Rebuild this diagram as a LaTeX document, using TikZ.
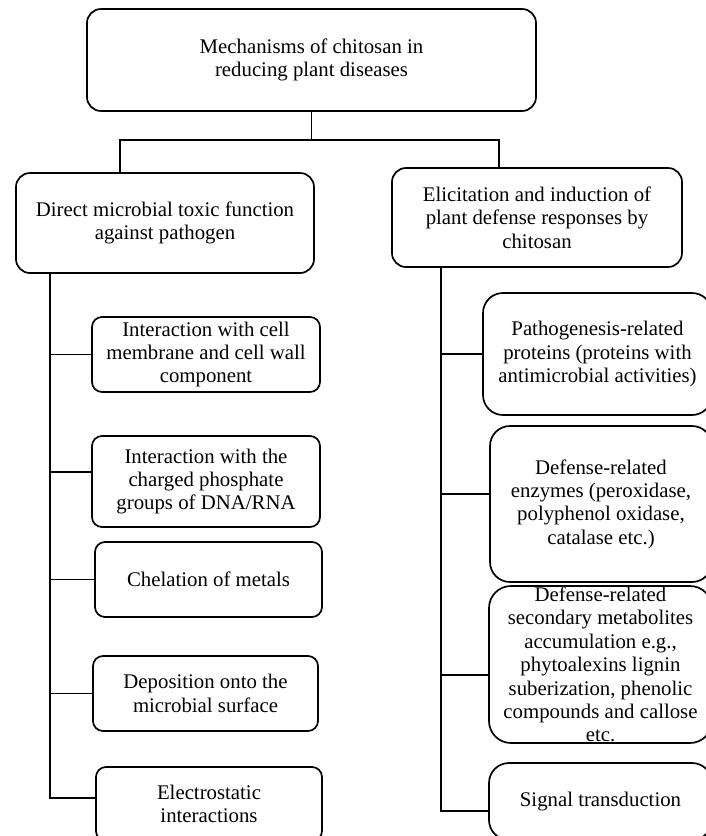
\documentclass[tikz,border=0pt]{standalone}
\usepackage{fontspec}
\setmainfont{Liberation Serif}
\begin{document}
\begin{tikzpicture}[x=1pt,y=-1pt,
    box/.style={draw,line width=1.7pt,rounded corners=#1,align=center,inner sep=0pt,
      font=\fontsize{20.8}{23.4}\selectfont},
    box/.default=10pt,
    link/.style={line width=1.7pt}]
    \useasboundingbox (0,0) rectangle (706,836);

    % Root entity
    \node[box=14pt,minimum width=449pt,minimum height=102pt] (root) at (311.5,60)
        {Mechanisms of chitosan in\\reducing plant diseases};

    % Two main branches
    \node[box=14pt,minimum width=298pt,minimum height=100pt] (direct) at (165,223)
        {Direct microbial toxic function\\against pathogen};
    \node[box=14pt,minimum width=290pt,minimum height=99pt] (elicit) at (537,217.5)
        {Elicitation and induction of\\plant defense responses by\\chitosan};

    % Direct toxic mechanisms
    \node[box,minimum width=228pt,minimum height=75pt] (membrane) at (206,354.5)
        {Interaction with cell\\membrane and cell wall\\component};
    \node[box,minimum width=228pt,minimum height=91pt] (dna) at (206,481.5)
        {Interaction with the\\charged phosphate\\groups of DNA/RNA};
    \node[box,minimum width=227pt,minimum height=75pt] (chelation) at (208.5,579.5)
        {Chelation of metals};
    \node[box,minimum width=225pt,minimum height=75pt] (deposition) at (205.5,693.5)
        {Deposition onto the\\microbial surface};
    \node[box,minimum width=226pt,minimum height=74pt] (electro) at (209,804)
        {Electrostatic\\interactions};

    % Defense responses
    \node[box=20pt,minimum width=229pt,minimum height=122pt] (prprot) at (597.5,354)
        {Pathogenesis-related\\proteins (proteins with\\antimicrobial activities)};
    \node[box=20pt,minimum width=222pt,minimum height=156pt] (enzymes) at (601,504)
        {Defense-related\\enzymes (peroxidase,\\polyphenol oxidase,\\catalase etc.)};
    \node[box=22pt,minimum width=223pt,minimum height=157pt] (metab) at (600.5,664.5)
        {Defense-related\\secondary metabolites\\accumulation e.g.,\\phytoalexins lignin\\suberization, phenolic\\compounds and callose\\etc.};
    \node[box=20pt,minimum width=223pt,minimum height=77pt] (signal) at (600.5,801.5)
        {Signal transduction};

    % Top fork
    \draw[link] (root.south) -- ++(0,28) coordinate (fork);
    \draw[link] ([xshift=-45pt]direct.north) |- (fork) -| ([xshift=-38pt]elicit.north);

    % Left trunk and branches
    \draw[link] ([xshift=-115pt]direct.south) coordinate (ltrunk) |- ([yshift=6pt]electro.west);
    \foreach \n/\s in {membrane/0pt, dna/9.5pt, chelation/0pt, deposition/0pt}
        \draw[link] ([yshift=\s]\n.west) coordinate (tmp) -- (ltrunk |- tmp);

    % Right trunk and branches
    \draw[link] ([xshift=-96pt]elicit.south) coordinate (rtrunk) |- ([yshift=-9.5pt]signal.west);
    \foreach \n/\s in {prprot/0pt, enzymes/10pt, metab/-10.5pt}
        \draw[link] ([yshift=\s]\n.west) coordinate (tmp) -- (rtrunk |- tmp);
\end{tikzpicture}
\end{document}
